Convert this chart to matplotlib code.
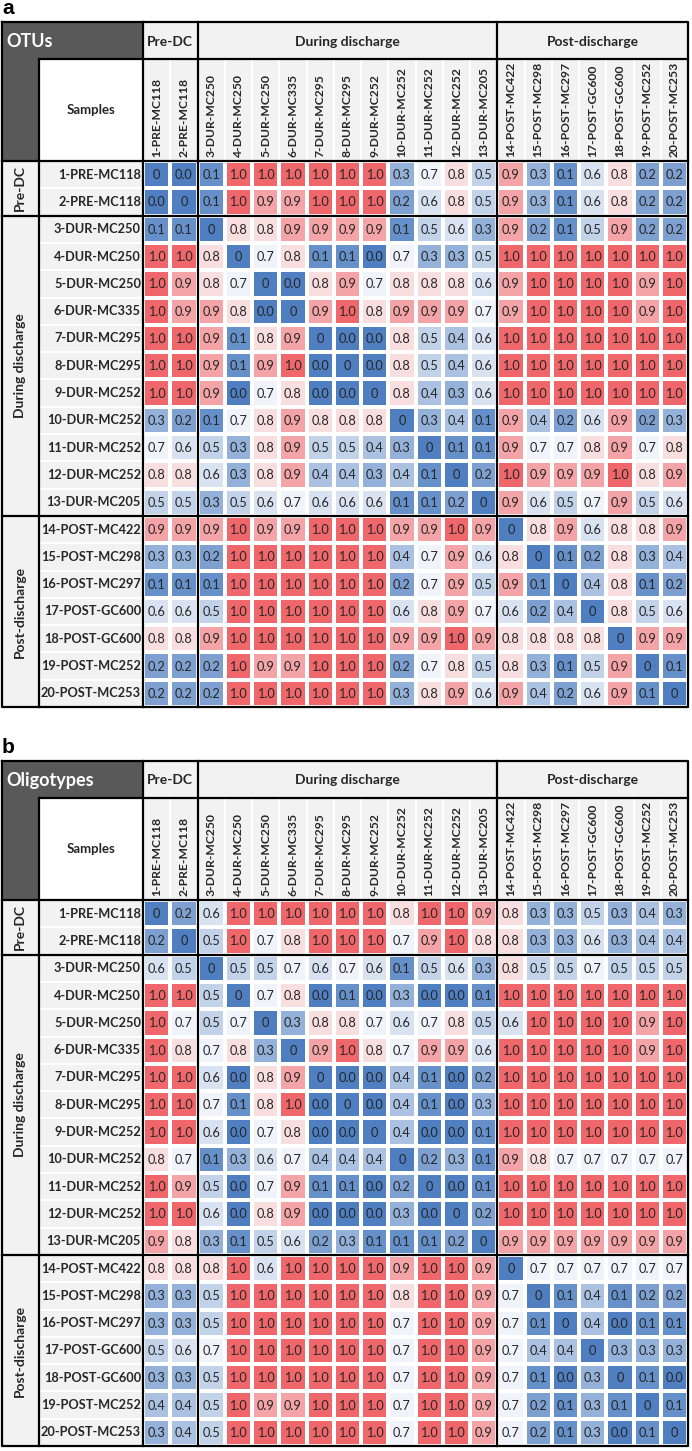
import numpy as np
import matplotlib
matplotlib.use('Agg')
import matplotlib.pyplot as plt
from matplotlib.colors import LinearSegmentedColormap, TwoSlopeNorm
from matplotlib.patches import Rectangle

plt.rcParams['font.family'] = ['Lato', 'DejaVu Sans']

samples = ['1-PRE-MC118', '2-PRE-MC118', '3-DUR-MC250', '4-DUR-MC250', '5-DUR-MC250',
           '6-DUR-MC335', '7-DUR-MC295', '8-DUR-MC295', '9-DUR-MC252', '10-DUR-MC252',
           '11-DUR-MC252', '12-DUR-MC252', '13-DUR-MC205', '14-POST-MC422', '15-POST-MC298',
           '16-POST-MC297', '17-POST-GC600', '18-POST-GC600', '19-POST-MC252', '20-POST-MC253']
groups = ['Pre-DC', 'During discharge', 'Post-discharge']
group_sizes = [2, 11, 7]

# panel a: OTUs
otus = [
    [0.0, 0.0, 0.1, 1.0, 1.0, 1.0, 1.0, 1.0, 1.0, 0.3, 0.7, 0.8, 0.5, 0.9, 0.3, 0.1, 0.6, 0.8, 0.2, 0.2],
    [0.0, 0.0, 0.1, 1.0, 0.9, 0.9, 1.0, 1.0, 1.0, 0.2, 0.6, 0.8, 0.5, 0.9, 0.3, 0.1, 0.6, 0.8, 0.2, 0.2],
    [0.1, 0.1, 0.0, 0.8, 0.8, 0.9, 0.9, 0.9, 0.9, 0.1, 0.5, 0.6, 0.3, 0.9, 0.2, 0.1, 0.5, 0.9, 0.2, 0.2],
    [1.0, 1.0, 0.8, 0.0, 0.7, 0.8, 0.1, 0.1, 0.0, 0.7, 0.3, 0.3, 0.5, 1.0, 1.0, 1.0, 1.0, 1.0, 1.0, 1.0],
    [1.0, 0.9, 0.8, 0.7, 0.0, 0.0, 0.8, 0.9, 0.7, 0.8, 0.8, 0.8, 0.6, 0.9, 1.0, 1.0, 1.0, 1.0, 0.9, 1.0],
    [1.0, 0.9, 0.9, 0.8, 0.0, 0.0, 0.9, 1.0, 0.8, 0.9, 0.9, 0.9, 0.7, 0.9, 1.0, 1.0, 1.0, 1.0, 0.9, 1.0],
    [1.0, 1.0, 0.9, 0.1, 0.8, 0.9, 0.0, 0.0, 0.0, 0.8, 0.5, 0.4, 0.6, 1.0, 1.0, 1.0, 1.0, 1.0, 1.0, 1.0],
    [1.0, 1.0, 0.9, 0.1, 0.9, 1.0, 0.0, 0.0, 0.0, 0.8, 0.5, 0.4, 0.6, 1.0, 1.0, 1.0, 1.0, 1.0, 1.0, 1.0],
    [1.0, 1.0, 0.9, 0.0, 0.7, 0.8, 0.0, 0.0, 0.0, 0.8, 0.4, 0.3, 0.6, 1.0, 1.0, 1.0, 1.0, 1.0, 1.0, 1.0],
    [0.3, 0.2, 0.1, 0.7, 0.8, 0.9, 0.8, 0.8, 0.8, 0.0, 0.3, 0.4, 0.1, 0.9, 0.4, 0.2, 0.6, 0.9, 0.2, 0.3],
    [0.7, 0.6, 0.5, 0.3, 0.8, 0.9, 0.5, 0.5, 0.4, 0.3, 0.0, 0.1, 0.1, 0.9, 0.7, 0.7, 0.8, 0.9, 0.7, 0.8],
    [0.8, 0.8, 0.6, 0.3, 0.8, 0.9, 0.4, 0.4, 0.3, 0.4, 0.1, 0.0, 0.2, 1.0, 0.9, 0.9, 0.9, 1.0, 0.8, 0.9],
    [0.5, 0.5, 0.3, 0.5, 0.6, 0.7, 0.6, 0.6, 0.6, 0.1, 0.1, 0.2, 0.0, 0.9, 0.6, 0.5, 0.7, 0.9, 0.5, 0.6],
    [0.9, 0.9, 0.9, 1.0, 0.9, 0.9, 1.0, 1.0, 1.0, 0.9, 0.9, 1.0, 0.9, 0.0, 0.8, 0.9, 0.6, 0.8, 0.8, 0.9],
    [0.3, 0.3, 0.2, 1.0, 1.0, 1.0, 1.0, 1.0, 1.0, 0.4, 0.7, 0.9, 0.6, 0.8, 0.0, 0.1, 0.2, 0.8, 0.3, 0.4],
    [0.1, 0.1, 0.1, 1.0, 1.0, 1.0, 1.0, 1.0, 1.0, 0.2, 0.7, 0.9, 0.5, 0.9, 0.1, 0.0, 0.4, 0.8, 0.1, 0.2],
    [0.6, 0.6, 0.5, 1.0, 1.0, 1.0, 1.0, 1.0, 1.0, 0.6, 0.8, 0.9, 0.7, 0.6, 0.2, 0.4, 0.0, 0.8, 0.5, 0.6],
    [0.8, 0.8, 0.9, 1.0, 1.0, 1.0, 1.0, 1.0, 1.0, 0.9, 0.9, 1.0, 0.9, 0.8, 0.8, 0.8, 0.8, 0.0, 0.9, 0.9],
    [0.2, 0.2, 0.2, 1.0, 0.9, 0.9, 1.0, 1.0, 1.0, 0.2, 0.7, 0.8, 0.5, 0.8, 0.3, 0.1, 0.5, 0.9, 0.0, 0.1],
    [0.2, 0.2, 0.2, 1.0, 1.0, 1.0, 1.0, 1.0, 1.0, 0.3, 0.8, 0.9, 0.6, 0.9, 0.4, 0.2, 0.6, 0.9, 0.1, 0.0],
]

# panel b: oligotypes
oligo = [
    [0.0, 0.2, 0.6, 1.0, 1.0, 1.0, 1.0, 1.0, 1.0, 0.8, 1.0, 1.0, 0.9, 0.8, 0.3, 0.3, 0.5, 0.3, 0.4, 0.3],
    [0.2, 0.0, 0.5, 1.0, 0.7, 0.8, 1.0, 1.0, 1.0, 0.7, 0.9, 1.0, 0.8, 0.8, 0.3, 0.3, 0.6, 0.3, 0.4, 0.4],
    [0.6, 0.5, 0.0, 0.5, 0.5, 0.7, 0.6, 0.7, 0.6, 0.1, 0.5, 0.6, 0.3, 0.8, 0.5, 0.5, 0.7, 0.5, 0.5, 0.5],
    [1.0, 1.0, 0.5, 0.0, 0.7, 0.8, 0.0, 0.1, 0.0, 0.3, 0.0, 0.0, 0.1, 1.0, 1.0, 1.0, 1.0, 1.0, 1.0, 1.0],
    [1.0, 0.7, 0.5, 0.7, 0.0, 0.3, 0.8, 0.8, 0.7, 0.6, 0.7, 0.8, 0.5, 0.6, 1.0, 1.0, 1.0, 1.0, 0.9, 1.0],
    [1.0, 0.8, 0.7, 0.8, 0.3, 0.0, 0.9, 1.0, 0.8, 0.7, 0.9, 0.9, 0.6, 1.0, 1.0, 1.0, 1.0, 1.0, 0.9, 1.0],
    [1.0, 1.0, 0.6, 0.0, 0.8, 0.9, 0.0, 0.0, 0.0, 0.4, 0.1, 0.0, 0.2, 1.0, 1.0, 1.0, 1.0, 1.0, 1.0, 1.0],
    [1.0, 1.0, 0.7, 0.1, 0.8, 1.0, 0.0, 0.0, 0.0, 0.4, 0.1, 0.0, 0.3, 1.0, 1.0, 1.0, 1.0, 1.0, 1.0, 1.0],
    [1.0, 1.0, 0.6, 0.0, 0.7, 0.8, 0.0, 0.0, 0.0, 0.4, 0.0, 0.0, 0.1, 1.0, 1.0, 1.0, 1.0, 1.0, 1.0, 1.0],
    [0.8, 0.7, 0.1, 0.3, 0.6, 0.7, 0.4, 0.4, 0.4, 0.0, 0.2, 0.3, 0.1, 0.9, 0.8, 0.7, 0.7, 0.7, 0.7, 0.7],
    [1.0, 0.9, 0.5, 0.0, 0.7, 0.9, 0.1, 0.1, 0.0, 0.2, 0.0, 0.0, 0.1, 1.0, 1.0, 1.0, 1.0, 1.0, 1.0, 1.0],
    [1.0, 1.0, 0.6, 0.0, 0.8, 0.9, 0.0, 0.0, 0.0, 0.3, 0.0, 0.0, 0.2, 1.0, 1.0, 1.0, 1.0, 1.0, 1.0, 1.0],
    [0.9, 0.8, 0.3, 0.1, 0.5, 0.6, 0.2, 0.3, 0.1, 0.1, 0.1, 0.2, 0.0, 0.9, 0.9, 0.9, 0.9, 0.9, 0.9, 0.9],
    [0.8, 0.8, 0.8, 1.0, 0.6, 1.0, 1.0, 1.0, 1.0, 0.9, 1.0, 1.0, 0.9, 0.0, 0.7, 0.7, 0.7, 0.7, 0.7, 0.7],
    [0.3, 0.3, 0.5, 1.0, 1.0, 1.0, 1.0, 1.0, 1.0, 0.8, 1.0, 1.0, 0.9, 0.7, 0.0, 0.1, 0.4, 0.1, 0.2, 0.2],
    [0.3, 0.3, 0.5, 1.0, 1.0, 1.0, 1.0, 1.0, 1.0, 0.7, 1.0, 1.0, 0.9, 0.7, 0.1, 0.0, 0.4, 0.0, 0.1, 0.1],
    [0.5, 0.6, 0.7, 1.0, 1.0, 1.0, 1.0, 1.0, 1.0, 0.7, 1.0, 1.0, 0.9, 0.7, 0.4, 0.4, 0.0, 0.3, 0.3, 0.3],
    [0.3, 0.3, 0.5, 1.0, 1.0, 1.0, 1.0, 1.0, 1.0, 0.7, 1.0, 1.0, 0.9, 0.7, 0.1, 0.0, 0.3, 0.0, 0.1, 0.0],
    [0.4, 0.4, 0.5, 1.0, 0.9, 0.9, 1.0, 1.0, 1.0, 0.7, 1.0, 1.0, 0.9, 0.7, 0.2, 0.1, 0.3, 0.1, 0.0, 0.1],
    [0.3, 0.4, 0.5, 1.0, 1.0, 1.0, 1.0, 1.0, 1.0, 0.7, 1.0, 1.0, 0.9, 0.7, 0.2, 0.1, 0.3, 0.0, 0.1, 0.0],
]

W, H = 692, 1451
cmap = LinearSegmentedColormap.from_list(
    'bwr_xl', [(0.0, '#4F7FC1'), (0.5, '#FBFBFD'), (0.8, '#F4A3A6'), (1.0, '#F0676B')])
norm = TwoSlopeNorm(vmin=0, vcenter=0.75, vmax=1)
GRAY = '#F2F2F2'
DARK = '#595959'
TXT = '#262626'

fig = plt.figure(figsize=(W / 100, H / 100), dpi=100)
ov = fig.add_axes([0, 0, 1, 1])
ov.set_xlim(0, W)
ov.set_ylim(H, 0)
ov.axis('off')
ov.set_zorder(5)
ov.patch.set_visible(False)


def draw_panel(letter, title, mat, oy):
    top = 22 + oy
    h1 = 59 + oy
    h2 = 161 + oy
    rh = 27.3
    bot = h2 + 20 * rh
    x0, xg, xm, xr = 2, 38.5, 143, 688
    cw = (xr - xm) / 20

    # heatmap
    hm = fig.add_axes([xm / W, 1 - bot / H, (xr - xm) / W, (bot - h2) / H])
    data = np.array(mat)
    hm.pcolormesh(data, cmap=cmap, norm=norm, edgecolors='white', linewidth=1.6)
    hm.set_xlim(0, 20)
    hm.set_ylim(20, 0)
    hm.axis('off')
    for i in range(20):
        for j in range(20):
            s = '0' if i == j else f'{data[i, j]:.1f}'
            hm.text(j + 0.5, i + 0.52, s, ha='center', va='center', fontsize=9.2, color=TXT)

    ov.text(x0, top - 8, letter, fontsize=15, fontweight='bold', family='Liberation Sans',
            va='baseline', ha='left')

    # dark corner + Samples box
    ov.add_patch(Rectangle((x0, top), xm - x0, h1 - top, fc=DARK, ec='none'))
    ov.add_patch(Rectangle((x0, h1), xg - x0, h2 - h1, fc=DARK, ec='none'))
    ov.add_patch(Rectangle((xg, h1), xm - xg, h2 - h1, fc='white', ec='none'))
    ov.text(x0 + 4, (top + h1) / 2 + 1, title, color='white', fontsize=13, fontweight='bold',
            va='center', ha='left')
    ov.text((xg + xm) / 2, (h1 + h2) / 2, 'Samples', fontsize=9.5, fontweight='bold',
            va='center', ha='center', color=TXT)

    # group headers (top) and group labels (left)
    c0 = 0
    for g, n in zip(groups, group_sizes):
        ov.add_patch(Rectangle((xm + c0 * cw, top), n * cw, h1 - top, fc=GRAY, ec='none'))
        ov.text(xm + (c0 + n / 2) * cw, (top + h1) / 2 + 1, g, fontsize=10, fontweight='bold',
                ha='center', va='center', color=TXT)
        ov.add_patch(Rectangle((x0, h2 + c0 * rh), xg - x0, n * rh, fc=GRAY, ec='none'))
        ov.text((x0 + xg) / 2, h2 + (c0 + n / 2) * rh, g, fontsize=10, fontweight='bold',
                rotation=90, ha='center', va='center', color=TXT)
        c0 += n

    # column and row labels
    for j, name in enumerate(samples):
        ov.add_patch(Rectangle((xm + j * cw, h1), cw, h2 - h1, fc=GRAY, ec='white', lw=1.5))
        ov.text(xm + (j + 0.5) * cw, h2 - 4, name, rotation=90, fontsize=8.7, fontweight='bold',
                ha='center', va='bottom', color=TXT)
        ov.add_patch(Rectangle((xg, h2 + j * rh), xm - xg, rh, fc=GRAY, ec='white', lw=1.5))
        ov.text(xm - 2, h2 + (j + 0.5) * rh, name, fontsize=9.2, fontweight='bold',
                ha='right', va='center', color=TXT)

    # black borders
    kw = dict(color='black', lw=1.6, solid_capstyle='projecting')
    ov.plot([x0, xr, xr, x0, x0], [top, top, bot, bot, top], **kw)
    ov.plot([xg, xr], [h1, h1], **kw)
    ov.plot([x0, xr], [h2, h2], **kw)
    ov.plot([xg, xg], [h1, bot], **kw)
    bounds = np.cumsum(group_sizes)[:-1]
    for b in bounds:
        ov.plot([x0, xr], [h2 + b * rh, h2 + b * rh], **kw)
        ov.plot([xm + b * cw, xm + b * cw], [top, bot], **kw)
    ov.plot([xm, xm], [top, bot], **kw)


draw_panel('a', 'OTUs', otus, 0)
draw_panel('b', 'Oligotypes', oligo, 739)

fig.savefig('out.png', dpi=100)
